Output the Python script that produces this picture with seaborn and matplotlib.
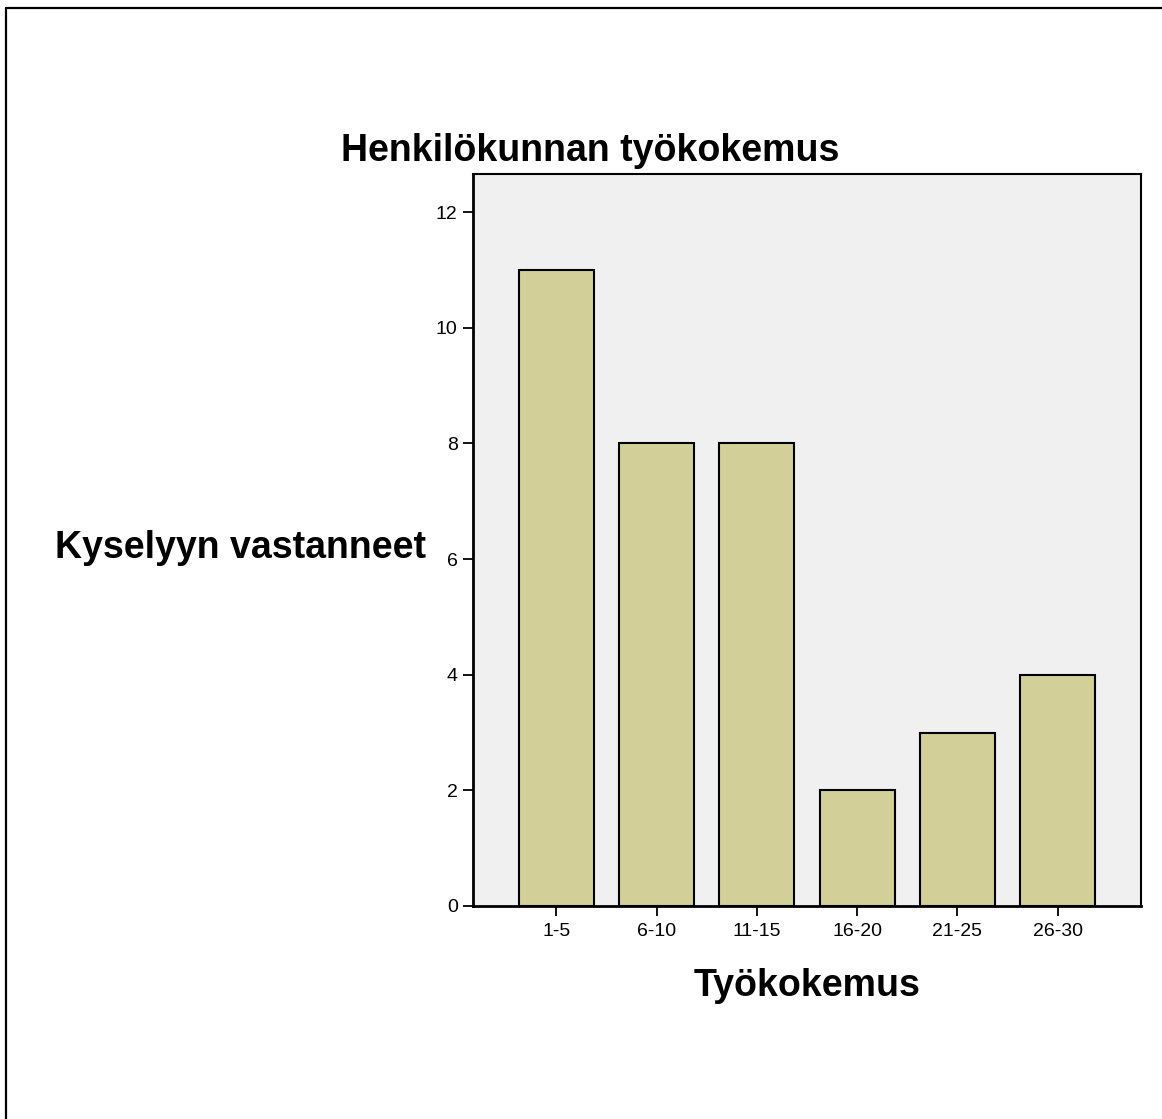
import pandas as pd
import matplotlib.pyplot as plt
from matplotlib.lines import Line2D
import seaborn as sns

kokemus = ['1-5', '6-10', '11-15', '16-20', '21-25', '26-30']
vastanneet = [11, 8, 8, 2, 3, 4]
yticks = [0, 2, 4, 6, 8, 10, 12]

df = pd.DataFrame({'kokemus': kokemus, 'vastanneet': vastanneet})

sns.set_style('white')
plt.rcParams['font.family'] = ['Liberation Sans', 'DejaVu Sans']
plt.rcParams['text.color'] = 'black'
plt.rcParams['axes.labelcolor'] = 'black'

fig = plt.figure(figsize=(11.62, 11.19), dpi=100)
ax = fig.add_axes([473/1162, 1 - 906/1119, 668/1162, 732/1119])
ax.set_facecolor('#f0f0f0')

sns.barplot(data=df, x='kokemus', y='vastanneet', order=kokemus, color='#d3cf98',
            saturation=1, width=0.75, edgecolor='black', linewidth=1.5, ax=ax)

ax.set_xlim(-0.83, 5.83)
ax.set_ylim(0, 12.66)
ax.set_yticks(yticks)
ax.tick_params(axis='both', direction='out', length=7.5, width=1.3, colors='black',
               labelsize=14, left=True, bottom=True)
ax.tick_params(axis='y', pad=3.5)
ax.tick_params(axis='x', pad=5)

for s in ax.spines.values():
    s.set_color('black')
    s.set_linewidth(1.5)
ax.spines['left'].set_linewidth(2)
ax.spines['bottom'].set_linewidth(2)

ax.set_xlabel('Työkokemus', fontsize=27, fontweight='bold', va='center')
ax.xaxis.set_label_coords(0.5, (906 - 986) / 732)
ax.set_ylabel('Kyselyyn vastanneet', fontsize=27, fontweight='bold', rotation=0,
              ha='center', va='center')
ax.yaxis.set_label_coords((240 - 473) / 668, (906 - 548) / 732)

ax.text((590.5 - 473) / 668, (906 - 151) / 732, 'Henkilökunnan työkokemus',
        transform=ax.transAxes, ha='center', va='center', fontsize=27, fontweight='bold')

# outer frame (SPSS chart border)
fig.add_artist(Line2D([6/1162, 1], [1 - 8/1119, 1 - 8/1119], color='black', lw=1.6,
                      transform=fig.transFigure))
fig.add_artist(Line2D([6/1162, 6/1162], [0, 1 - 8/1119], color='black', lw=1.6,
                      transform=fig.transFigure))

fig.savefig('out.png', dpi=100)
